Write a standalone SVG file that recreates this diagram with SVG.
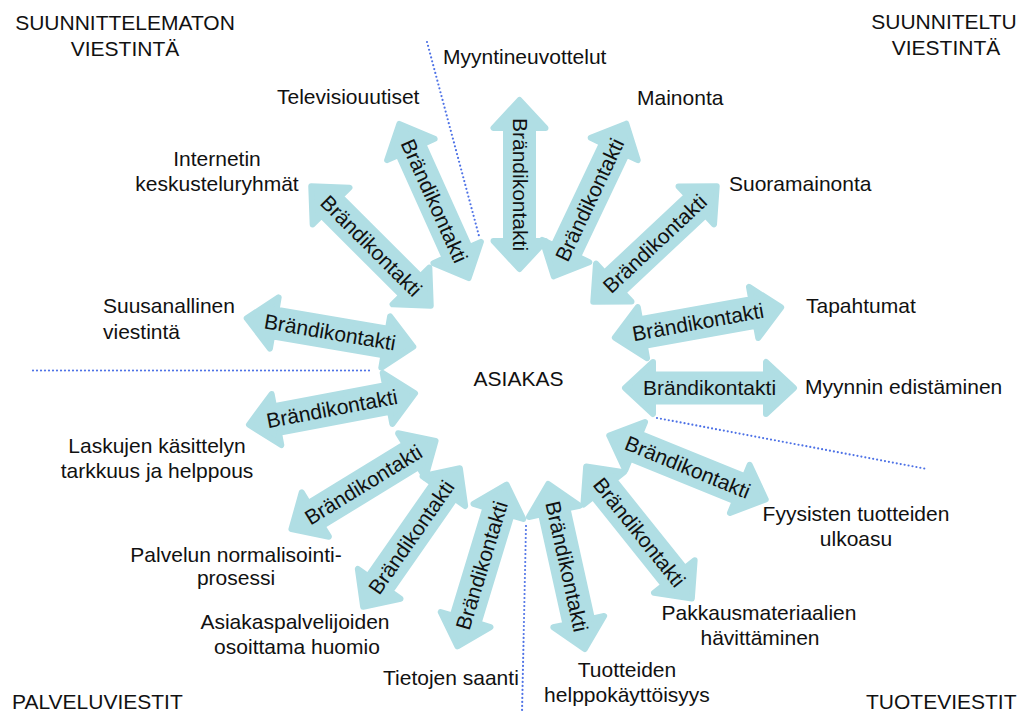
<svg xmlns="http://www.w3.org/2000/svg" xmlns:xlink="http://www.w3.org/1999/xlink" width="1027" height="713" viewBox="0 0 1027 713">
  <style>
    text { font-family: "Liberation Sans", Arial, sans-serif; font-size: 21px; fill: #111; }
    .mid { text-anchor: middle; }
    .arrow { fill: #B0DEE4; stroke: #B0DEE4; stroke-width: 6; stroke-linejoin: round; }
    .divider { fill: none; stroke: #4E72E6; stroke-width: 2.2; stroke-linecap: round; stroke-dasharray: 0 4; }
  </style>
  <defs>
    <!-- double-headed block arrow, centred on the origin, pointing along x -->
    <path id="dbl" d="M 84.5 0 L 56.5 -26 L 56.5 -13.5 L -56.5 -13.5 L -56.5 -26 L -84.5 0 L -56.5 26 L -56.5 13.5 L 56.5 13.5 L 56.5 26 Z"/>
  </defs>

  <rect width="1027" height="713" fill="#fff"/>

  <!-- dotted dividers between the four sectors -->
  <g id="dividers">
    <line class="divider" x1="427" y1="42" x2="479" y2="236"/>
    <line class="divider" x1="33" y1="370.5" x2="371" y2="370.5"/>
    <line class="divider" x1="657" y1="418" x2="927" y2="469"/>
    <line class="divider" x1="526" y1="526" x2="522" y2="713"/>
  </g>

  <!-- sector titles -->
  <g id="sector-titles">
    <text class="mid" x="125" y="30">SUUNNITTELEMATON</text>
    <text class="mid" x="125" y="56">VIESTINTÄ</text>
    <text class="mid" x="944" y="29">SUUNNITELTU</text>
    <text class="mid" x="946" y="55">VIESTINTÄ</text>
    <text x="12" y="709">PALVELUVIESTIT</text>
    <text x="866" y="709">TUOTEVIESTIT</text>
  </g>

  <!-- brand contact arrows around the customer -->
  <g id="connectors">
    <g transform="translate(519.5,184.5) rotate(90)"><use xlink:href="#dbl" class="arrow"/><text class="mid" y="7">Brändikontakti</text></g>
    <g transform="translate(590,200) rotate(-64.6)"><use xlink:href="#dbl" class="arrow"/><text class="mid" y="7">Brändikontakti</text></g>
    <g transform="translate(655,244) rotate(-43.1)"><use xlink:href="#dbl" class="arrow"/><text class="mid" y="7">Brändikontakti</text></g>
    <g transform="translate(698,322.5) rotate(-10.3)"><use xlink:href="#dbl" class="arrow"/><text class="mid" y="7">Brändikontakti</text></g>
    <g transform="translate(709.5,388) rotate(0)"><use xlink:href="#dbl" class="arrow"/><text class="mid" y="7">Brändikontakti</text></g>
    <g transform="translate(687.5,467.5) rotate(22.2)"><use xlink:href="#dbl" class="arrow"/><text class="mid" y="7">Brändikontakti</text></g>
    <g transform="translate(639,532.5) rotate(51.3)"><use xlink:href="#dbl" class="arrow"/><text class="mid" y="7">Brändikontakti</text></g>
    <g transform="translate(566.5,566.5) rotate(77.5)"><use xlink:href="#dbl" class="arrow"/><text class="mid" y="7">Brändikontakti</text></g>
    <g transform="translate(482,565.5) rotate(-73.1)"><use xlink:href="#dbl" class="arrow"/><text class="mid" y="7">Brändikontakti</text></g>
    <g transform="translate(411.5,537.5) rotate(-55.1)"><use xlink:href="#dbl" class="arrow"/><text class="mid" y="7">Brändikontakti</text></g>
    <g transform="translate(363.5,485) rotate(-31.5)"><use xlink:href="#dbl" class="arrow"/><text class="mid" y="7">Brändikontakti</text></g>
    <g transform="translate(332,409) rotate(-10.7)"><use xlink:href="#dbl" class="arrow"/><text class="mid" y="7">Brändikontakti</text></g>
    <g transform="translate(330,332.5) rotate(9.7)"><use xlink:href="#dbl" class="arrow"/><text class="mid" y="7">Brändikontakti</text></g>
    <g transform="translate(371,246) rotate(45)"><use xlink:href="#dbl" class="arrow"/><text class="mid" y="7">Brändikontakti</text></g>
    <g transform="translate(434,201) rotate(65.8)"><use xlink:href="#dbl" class="arrow"/><text class="mid" y="7">Brändikontakti</text></g>
  </g>

  <!-- centre -->
  <g id="asiakas"><text class="mid" x="518.5" y="386">ASIAKAS</text></g>

  <!-- contact points -->
  <g id="myyntineuvottelut"><text x="443" y="64">Myyntineuvottelut</text></g>
  <g id="mainonta"><text x="637" y="105">Mainonta</text></g>
  <g id="suoramainonta"><text x="729" y="191">Suoramainonta</text></g>
  <g id="tapahtumat"><text x="806" y="313">Tapahtumat</text></g>
  <g id="myynnin-edistaminen"><text x="805" y="394">Myynnin edistäminen</text></g>
  <g id="fyysisten-tuotteiden-ulkoasu">
    <text class="mid" x="856" y="521">Fyysisten tuotteiden</text>
    <text class="mid" x="856" y="546">ulkoasu</text>
  </g>
  <g id="pakkausmateriaalien-havittaminen">
    <text class="mid" x="759" y="620">Pakkausmateriaalien</text>
    <text class="mid" x="760" y="645">hävittäminen</text>
  </g>
  <g id="tuotteiden-helppokayttoisyys">
    <text class="mid" x="627" y="677">Tuotteiden</text>
    <text class="mid" x="627" y="702">helppokäyttöisyys</text>
  </g>
  <g id="tietojen-saanti"><text x="383" y="685">Tietojen saanti</text></g>
  <g id="asiakaspalvelijoiden-huomio">
    <text class="mid" x="295" y="629">Asiakaspalvelijoiden</text>
    <text class="mid" x="297" y="654">osoittama huomio</text>
  </g>
  <g id="palvelun-normalisointiprosessi">
    <text class="mid" x="236" y="562">Palvelun normalisointi-</text>
    <text class="mid" x="236" y="585">prosessi</text>
  </g>
  <g id="laskujen-kasittely">
    <text class="mid" x="157" y="453">Laskujen käsittelyn</text>
    <text class="mid" x="157" y="478">tarkkuus ja helppous</text>
  </g>
  <g id="suusanallinen-viestinta">
    <text x="103" y="313">Suusanallinen</text>
    <text x="103" y="339">viestintä</text>
  </g>
  <g id="internetin-keskusteluryhmat">
    <text class="mid" x="217" y="166">Internetin</text>
    <text class="mid" x="217" y="191">keskusteluryhmät</text>
  </g>
  <g id="televisiouutiset"><text x="277" y="104">Televisiouutiset</text></g>
</svg>
